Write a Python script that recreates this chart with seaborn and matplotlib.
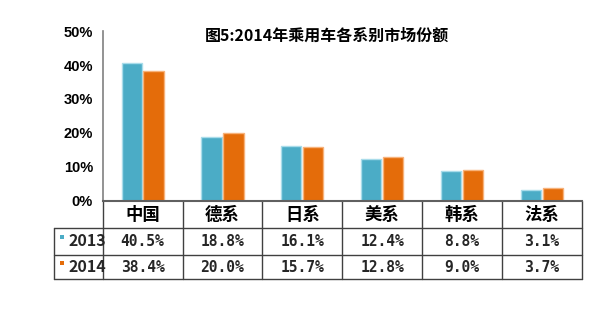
import matplotlib
matplotlib.use("Agg")
import matplotlib.pyplot as plt
import matplotlib.transforms as mtransforms
from matplotlib.patches import Rectangle
from matplotlib.lines import Line2D
import seaborn as sns
import pandas as pd

categories = ["中国", "德系", "日系", "美系", "韩系", "法系"]
years = ["2013", "2014"]
share_2013 = [40.5, 18.8, 16.1, 12.4, 8.8, 3.1]
share_2014 = [38.4, 20.0, 15.7, 12.8, 9.0, 3.7]
yticks = [0, 10, 20, 30, 40, 50]
title = "图5:2014年乘用车各系别市场份额"

colors = {"2013": "#4BACC6", "2014": "#E46C0A"}
edge_colors = {"2013": "#A9DCEA", "2014": "#F7B27A"}

df = pd.DataFrame({
    "cat": categories * 2,
    "year": [years[0]] * len(categories) + [years[1]] * len(categories),
    "val": share_2013 + share_2014,
})

sns.set_style("white")
plt.rcParams["font.family"] = ["Noto Sans CJK SC", "DejaVu Sans"]

fig = plt.figure(figsize=(6.14, 3.21), dpi=100)
ax = fig.add_axes([102.7 / 614, 1 - 200.7 / 321, 479 / 614, 169.5 / 321])

sns.barplot(data=df, x="cat", y="val", hue="year", palette=colors,
            order=categories, hue_order=years, width=0.55, gap=0.08,
            legend=False, ax=ax, saturation=1)

# lighter edges on bars
n = len(categories)
for i, p in enumerate(ax.patches[:2 * n]):
    yr = years[i // n]
    p.set_edgecolor(edge_colors[yr])
    p.set_linewidth(1.0)

ax.set_xlim(-0.5, n - 0.5)
ax.set_ylim(0, 50)
ax.set_yticks(yticks)
ax.set_yticklabels([f"{v}%" for v in yticks],
                   fontfamily=["Liberation Sans", "DejaVu Sans"],
                   fontweight="bold", fontsize=10.5, color="#000000")
ax.tick_params(axis="y", direction="in", length=3.5, width=1, color="#808080", pad=7)
ax.set_xticks([])
ax.set_xlabel("")
ax.set_ylabel("")
for s in ["top", "right"]:
    ax.spines[s].set_visible(False)
ax.spines["left"].set_color("#808080")
ax.spines["left"].set_linewidth(1.2)
ax.spines["bottom"].set_color("#606060")
ax.spines["bottom"].set_linewidth(1.5)

# title
fig.text(327 / 614, 1 - 36 / 321, title, ha="center", va="center",
         fontsize=11.5, fontweight="bold", color="#000000")

# table below axes
trans_x = mtransforms.blended_transform_factory(ax.transData, ax.transAxes)
y_r1 = -27.6 / 169.5
y_r2 = -54.0 / 169.5
y_bot = -78.6 / 169.5
x_left = -49.0 / 479
line_kw = dict(color="#404040", linewidth=1.0, clip_on=False)

for k in range(n + 1):
    ax.add_line(Line2D([k - 0.5, k - 0.5], [0, y_bot], transform=trans_x, **line_kw))
ax.add_line(Line2D([x_left, x_left], [y_r1, y_bot], transform=ax.transAxes, **line_kw))
for yy in [y_r1, y_r2, y_bot]:
    ax.add_line(Line2D([x_left, 1], [yy, yy], transform=ax.transAxes, **line_kw))

y_head = y_r1 / 2
y_c1 = (y_r1 + y_r2) / 2
y_c2 = (y_r2 + y_bot) / 2
mono = ["DejaVu Sans Mono", "DejaVu Sans"]
for k, cat in enumerate(categories):
    ax.text(k, y_head, cat, transform=trans_x, ha="center", va="center",
            fontsize=12.5, fontweight="bold", color="#000000")
    ax.text(k, y_c1, f"{share_2013[k]:.1f}%", transform=trans_x, ha="center", va="center",
            fontsize=10.5, fontweight="bold", fontfamily=mono)
    ax.text(k, y_c2, f"{share_2014[k]:.1f}%", transform=trans_x, ha="center", va="center",
            fontsize=10.5, fontweight="bold", fontfamily=mono)

for yr, yc in zip(years, [y_c1, y_c2]):
    ax.add_patch(Rectangle((-42.5 / 479, yc + 2.5 / 169.5), 3.5 / 479, 4 / 169.5,
                           transform=ax.transAxes, facecolor=colors[yr],
                           edgecolor="none", clip_on=False))
    ax.text(-34.5 / 479, yc, yr, transform=ax.transAxes, ha="left", va="center",
            fontsize=11.5, fontweight="bold")

fig.savefig("out.png", dpi=100, facecolor="white")
